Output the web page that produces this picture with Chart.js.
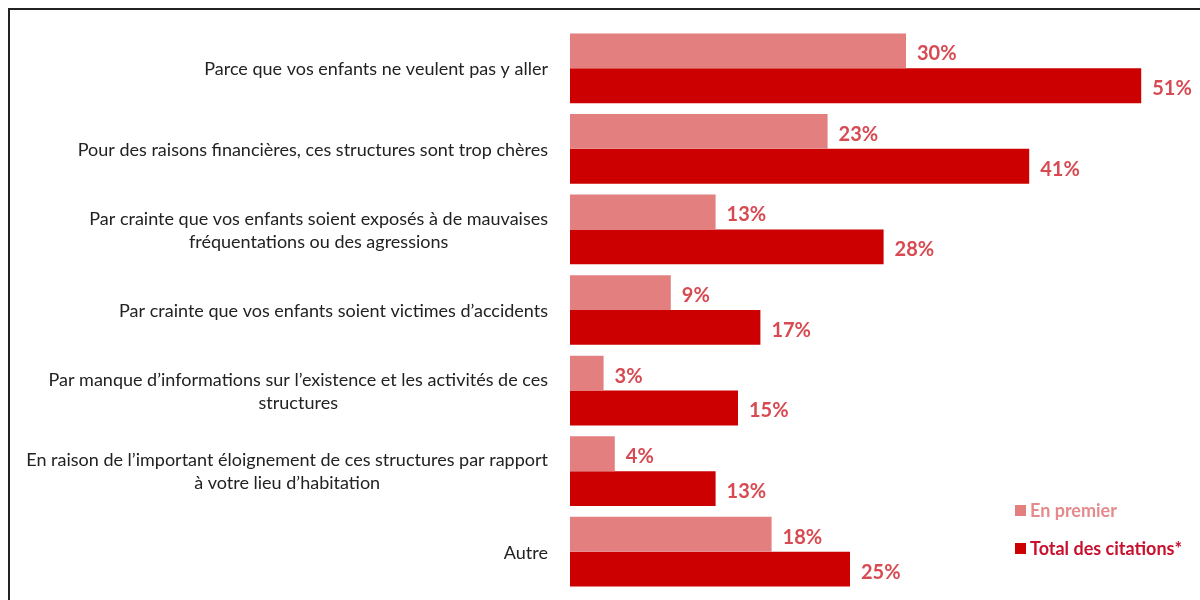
<!DOCTYPE html>
<html>
<head>
<meta charset="utf-8">
<script src="https://cdn.jsdelivr.net/npm/chart.js@4.4.1/dist/chart.umd.min.js"></script>
<style>
  body { margin: 0; background: #fff; overflow: hidden; }
  #wrap { position: relative; width: 1200px; height: 600px; }
  #cadre { position: absolute; left: 8px; top: 8px; width: 1300px; height: 700px; border: 2px solid #222; }
  canvas { position: absolute; left: 0; top: 0; }
</style>
</head>
<body>
<div id="wrap">
  <div id="cadre"></div>
  <canvas id="myChart" width="1200" height="600"></canvas>
</div>
<script>

const categories = [
    ["Parce que vos enfants ne veulent pas y aller"],
    ["Pour des raisons financières, ces structures sont trop chères"],
    ["Par crainte que vos enfants soient exposés à de mauvaises", "fréquentations ou des agressions"],
    ["Par crainte que vos enfants soient victimes d’accidents"],
    ["Par manque d’informations sur l’existence et les activités de ces", "structures"],
    ["En raison de l’important éloignement de ces structures par rapport", "à votre lieu d’habitation"],
    ["Autre"]
]
const enPremier = [30, 23, 13, 9, 3, 4, 18]
const totalCitations = [51, 41, 28, 17, 15, 13, 25]
const seriesNames = ["En premier", "Total des citations*"]

const FONT = "Lato, 'Open Sans', sans-serif"

// labels des categories, alignés à droite en bloc, lignes centrées
const etiquettes = {
    id: 'etiquettes',
    afterDraw(chart) {
        const ctx = chart.ctx
        const y = chart.scales.y
        ctx.save()
        ctx.font = "18px " + FONT
        ctx.fillStyle = "#222"
        ctx.textBaseline = "middle"
        categories.forEach((lignes, i) => {
            const cy = y.getPixelForTick(i) + 1
            const largeur = Math.max(...lignes.map(l => ctx.measureText(l).width))
            const droite = chart.chartArea.left - 22
            const cx = droite - largeur / 2
            ctx.textAlign = "center"
            lignes.forEach((l, k) => {
                ctx.fillText(l, cx, cy + (k - (lignes.length - 1) / 2) * 23)
            })
        })
        ctx.restore()
    }
}

// valeurs au bout des barres
const valeurs = {
    id: 'valeurs',
    afterDatasetsDraw(chart) {
        const ctx = chart.ctx
        ctx.save()
        ctx.font = "bold 20px " + FONT
        ctx.fillStyle = "#d84a52"
        ctx.textAlign = "left"
        ctx.textBaseline = "middle"
        chart.data.datasets.forEach((ds, d) => {
            chart.getDatasetMeta(d).data.forEach((bar, i) => {
                ctx.fillText(ds.data[i] + "%", bar.x + 11, bar.y + 3)
            })
        })
        ctx.restore()
    }
}

// legende en bas a droite
const legende = {
    id: 'legende',
    afterDraw(chart) {
        const ctx = chart.ctx
        const couleursTexte = ["#e58a8c", "#c8102e"]
        ctx.save()
        ctx.font = "bold 18px " + FONT
        ctx.textBaseline = "middle"
        chart.data.datasets.forEach((ds, d) => {
            const yy = 511 + d * 38
            ctx.fillStyle = ds.backgroundColor
            ctx.fillRect(1015, yy - 6, 11, 11)
            ctx.fillStyle = couleursTexte[d]
            ctx.fillText(ds.label, 1030, yy)
        })
        ctx.restore()
    }
}

const ctx = document.getElementById('myChart')
const myChart = new Chart(ctx, {
    type: 'bar',
    data: {
        labels: categories.map(c => c.join(" ")),
        datasets: [{
            label: seriesNames[0],
            data: enPremier,
            backgroundColor: '#e47f80',
            barPercentage: 1,
            categoryPercentage: 0.865
        }, {
            label: seriesNames[1],
            data: totalCitations,
            backgroundColor: '#cc0000',
            barPercentage: 1,
            categoryPercentage: 0.865
        }]
    },
    options: {
        indexAxis: 'y',
        responsive: false,
        animation: false,
        layout: {
            padding: { left: 570, right: 14, top: 28, bottom: 8 }
        },
        scales: {
            x: { display: false, min: 0, max: 55 },
            y: { display: false }
        },
        plugins: {
            legend: { display: false },
            tooltip: { enabled: false }
        }
    },
    plugins: [etiquettes, valeurs, legende]
})

</script>
</body>
</html>
